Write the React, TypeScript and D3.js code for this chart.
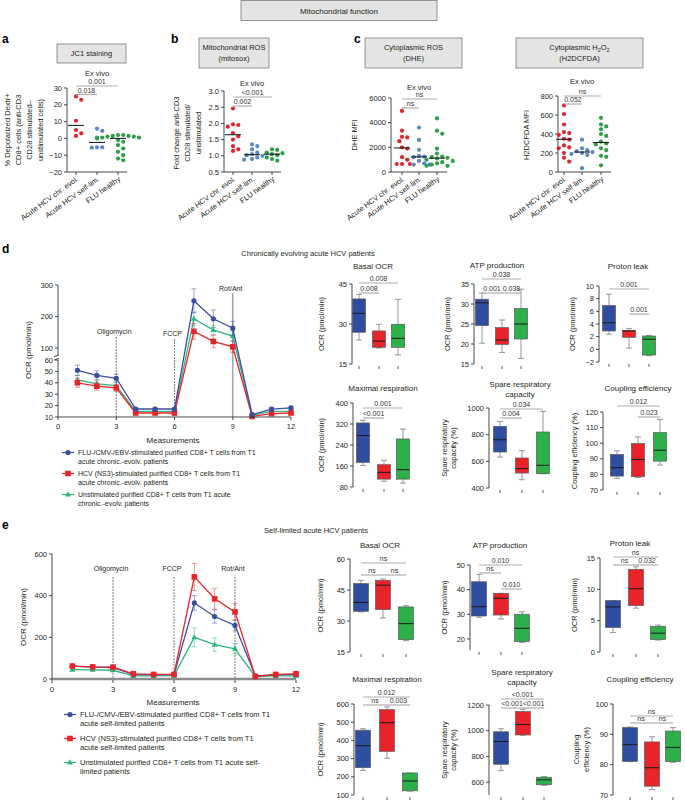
import React from "react";
import * as d3 from "d3";

const FONT = "'Liberation Sans', Arial, Helvetica, sans-serif";
const INK = "#231f20";

// ---------------- Panels a–c: dot plots ----------------
const dotCategories = ["Acute HCV chr. evol.", "Acute HCV self-lim.", "FLU healthy"];
const jc1Chronic = [25, 23, 10.5, 5, 3, 1.5];
const jc1SelfLim = [5.8, 4.5, 0.5, -5.3, -5.3, -5.5];
const jc1Flu = [2, 2, 1.5, 1.5, 1, 1, 0.5, 0.5, 0, -1, -2, -4, -6, -8, -10, -12, -13];
const jc1Ticks = [-20, -10, 0, 10, 20, 30];

const mitosoxChronic = [2.46, 1.97, 1.95, 1.9, 1.7, 1.6, 1.5, 1.3, 1.2, 1.15];
const mitosoxSelfLim = [1.35, 1.3, 1.2, 1.1, 1.05, 1.02, 1.0, 0.95, 0.9, 0.88];
const mitosoxFlu = [1.2, 1.18, 1.1, 1.08, 1.05, 1.02, 0.95, 0.9, 0.85];
const mitosoxTicks = [0.5, 1.0, 1.5, 2.0, 2.5, 3.0];

const dheChronic = [4950, 3350, 2850, 2800, 2500, 2000, 1900, 1200, 1000, 650, 650, 650];
const dheSelfLim = [3600, 2600, 1800, 1300, 1250, 1200, 900, 700, 600, 600];
const dheFlu = [4350, 3350, 3100, 1900, 1500, 1250, 1200, 1150, 1100, 1000, 900, 800, 700, 600, 500, 500];
const dheTicks = [0, 2000, 4000, 6000];

const h2Chronic = [700, 610, 500, 420, 410, 390, 350, 340, 280, 260, 250, 200, 150, 110];
const h2SelfLim = [340, 250, 230, 220, 210, 200, 190, 180, 40];
const h2Flu = [570, 500, 480, 450, 400, 380, 320, 300, 290, 250, 230, 170, 160, 70];
const h2Ticks = [0, 200, 400, 600, 800];

// ---------------- Panels d, e: OCR time courses ----------------
const measurements = [1, 2, 3, 4, 5, 6, 7, 8, 9, 10, 11, 12];
const measurementTicks = [0, 3, 6, 9, 12];

const dFlu = [51, 46.5, 44, 17, 17, 17, 250, 193, 163, 12, 17, 18];
const dFluErr = [4.5, 4, 3.5, 1.5, 1.5, 1.5, 38, 28, 22, 1.5, 1.5, 1.5];
const dHcv = [40, 37, 35.5, 13.5, 13.5, 13.5, 153, 121, 104, 10.5, 13, 13.5];
const dHcvErr = [4, 3.5, 3, 1, 1, 1, 25, 20, 18, 1, 1, 1];
const dUnstim = [42.5, 39, 37.5, 15, 15, 15, 193, 157, 138, 11.5, 15, 15];
const dUnstimErr = [4, 3.5, 3.5, 1, 1, 1, 22, 15, 15, 1, 1, 1];
const dLowerTicks = [10, 20, 30, 40, 50, 60];
const dUpperTicks = [100, 200, 300];

const eFlu = [62, 57, 55, 22, 20, 20, 365, 300, 257, 15, 20, 22];
const eFluErr = [6, 5, 5, 4, 3, 3, 35, 32, 25, 3, 3, 3];
const eHcv = [62, 58, 57, 25, 22, 22, 490, 385, 322, 12, 22, 25];
const eHcvErr = [6, 6, 6, 5, 4, 4, 65, 50, 40, 3, 4, 4];
const eUnstim = [45, 44, 42, 15, 15, 16, 200, 165, 145, 12, 15, 15];
const eUnstimErr = [5, 5, 5, 3, 3, 3, 45, 32, 25, 3, 3, 3];
const eTicks = [0, 200, 400, 600];

const injections = [
  { at: 3, label: "Oligomycin" },
  { at: 6, label: "FCCP" },
  { at: 9, label: "Rot/Ant" },
];

const dLegend = [
  ["FLU-/CMV-/EBV-stimulated purified CD8+ T cells from T1", "acute chronic.-evolv. patients"],
  ["HCV (NS3)-stimulated purified CD8+ T cells from T1", "acute chronic.-evolv. patients"],
  ["Unstimulated purified CD8+ T cells from T1 acute", "chronic.-evolv. patients"],
];
const eLegend = [
  ["FLU-/CMV-/EBV-stimulated purified CD8+ T cells from T1", "acute self-limited patients"],
  ["HCV (NS3)-stimulated purified CD8+ T cells from T1", "acute self-limited patients"],
  ["Unstimulated purified CD8+ T cells from T1 acute self-", "limited patients"],
];

// ---------------- Box plots: [min, q1, median, q3, max] for FLU, HCV, unstim ----------------
const dBasal = [[24, 26.9, 34, 39.4, 41.1], [21, 21.25, 23.6, 27.4, 29.9], [18.4, 21.25, 24.6, 29.9, 39.25]];
const dAtp = [[20.2, 24.6, 30.3, 31.2, 32.7], [17.9, 19.9, 21, 24.1, 26], [16.4, 21.25, 25, 28.9, 33.7]];
const dProton = [[2.4, 2.9, 4.2, 6.9, 8.7], [0.2, 1.9, 2.9, 3.0, 3.3], [-1.0, -0.9, 1.6, 2.1, 2.2]];
const dMaximal = [[162, 174, 276, 324, 334], [102, 110, 136, 165, 182], [95, 110, 146, 263, 301]];
const dSpare = [[632, 670, 762, 862, 900], [462, 512, 545, 625, 680], [507, 507, 570, 820, 975]];
const dCoupling = [[77.4, 78.9, 84.3, 92.8, 95.1], [78, 78.5, 89.6, 99.8, 104], [86, 88.5, 95.5, 106.8, 115.3]];

const eBasal = [[34.4, 34.7, 39, 48.1, 49.7], [31.5, 35.5, 47.3, 49.7, 50.3], [20.5, 21, 28.7, 36.8, 37.4]];
const eAtp = [[28.8, 29.3, 33.1, 43.2, 46.2], [28.1, 29.7, 36.5, 38.5, 38.5], [18.6, 18.9, 24.3, 30, 31]];
const eProton = [[3.1, 3.9, 7.2, 8.2, 8.2], [7.0, 7.4, 10.1, 13.2, 13.6], [1.9, 2.0, 3.0, 4.1, 4.3]];
const eMaximal = [[235, 250, 371, 456, 464], [302, 340, 497, 569, 584], [121, 123, 177, 221, 221]];
const eSpare = [[689, 739, 916, 992, 1015], [965, 967, 1048, 1149, 1167], [575, 580, 618, 638, 643]];
const eCoupling = [[81, 81.1, 86.6, 92.2, 92.4], [71.8, 72.9, 79, 87.5, 89.2], [80.8, 81, 85.7, 91.1, 92.2]];

// ---------------- colours ----------------
const dotColors = ["#dd272d", "#5a87c6", "#2e9e49"];
const boxColors = ["#2f4ea2", "#e8232a", "#2bb04a"];
const lineColors = { flu: "#3b4ea0", hcv: "#e8242a", uns: "#2fb67c" };

const fmtNum = (n: number) => (n < 0 ? "\u2212" + Math.abs(n) : String(n));
const arr = (v: number | number[]) => (Array.isArray(v) ? v : [v]);

type Sig = { a: number; b: number; y: number; label: string };

function SigBars({ sig, catX }: { sig: Sig[]; catX: number[] }) {
  return (
    <g>
      {sig.map((s, i) => (
        <g key={i}>
          <line x1={catX[s.a]} x2={catX[s.b]} y1={s.y} y2={s.y} stroke="#adadad" strokeWidth={1.2} />
          <text x={(catX[s.a] + catX[s.b]) / 2} y={s.y - 1.8} textAnchor="middle" fontSize={7} fill="#333">
            {s.label}
          </text>
        </g>
      ))}
    </g>
  );
}

function RotLabel({ lines, xs, cy, size = 7.5 }: { lines: string[]; xs: number[]; cy: number; size?: number }) {
  return (
    <g>
      {lines.map((l, i) => (
        <text
          key={i}
          transform={`translate(${xs[i] + 2.6},${cy}) rotate(-90)`}
          textAnchor="middle"
          fontSize={size}
          fill={INK}
        >
          {l}
        </text>
      ))}
    </g>
  );
}

function TitleBox({ x, y, w, h, lines }: { x: number; y: number; w: number; h: number; lines: React.ReactNode[] }) {
  const n = lines.length;
  return (
    <g>
      <rect x={x} y={y} width={w} height={h} fill="#e4e4e4" stroke="#7a7a7a" strokeWidth={0.8} />
      {lines.map((l, i) => (
        <text
          key={i}
          x={x + w / 2}
          y={y + h / 2 + 2.7 + (i - (n - 1) / 2) * 11}
          textAnchor="middle"
          fontSize={7.5}
          fill={INK}
        >
          {l}
        </text>
      ))}
    </g>
  );
}

function swarm(values: number[], y: (v: number) => number, r: number) {
  const pts = values.map((v) => ({ v, py: y(v), dx: 0 }));
  const order = [...pts].sort((a, b) => a.py - b.py);
  const placed: { py: number; dx: number }[] = [];
  const s = r * 1.25;
  for (const p of order) {
    for (let k = 0; k < 30; k++) {
      const m = Math.ceil(k / 2);
      const off = k === 0 ? 0 : k % 2 === 1 ? m * s : -m * s;
      const hit = placed.some((q) => (q.dx - off) ** 2 + (q.py - p.py) ** 2 < (2 * r + 0.5) ** 2);
      if (!hit) {
        p.dx = off;
        break;
      }
    }
    placed.push({ py: p.py, dx: p.dx });
  }
  return pts;
}

function DotPlot(props: {
  axisX: number;
  yTop: number;
  yBottom: number;
  domain: [number, number];
  ticks: number[];
  fmt: (n: number) => string;
  catX: number[];
  groups: number[][];
  sig: Sig[];
  exVivoY: number;
  xEnd: number;
}) {
  const { axisX, yTop, yBottom, domain, ticks, fmt, catX, groups, sig, exVivoY, xEnd } = props;
  const y = d3.scaleLinear().domain(domain).range([yBottom, yTop]);
  const r = 2.1;
  return (
    <g>
      <text x={catX[1]} y={exVivoY} textAnchor="middle" fontSize={7.5} fill={INK}>
        Ex vivo
      </text>
      <line x1={axisX} x2={axisX} y1={yTop} y2={yBottom} stroke="#333" strokeWidth={0.9} />
      <line x1={axisX} x2={xEnd} y1={yBottom} y2={yBottom} stroke="#333" strokeWidth={0.9} />
      {ticks.map((t) => (
        <g key={t}>
          <line x1={axisX - 3} x2={axisX} y1={y(t)} y2={y(t)} stroke="#333" strokeWidth={0.9} />
          <text x={axisX - 5} y={y(t) + 2.6} textAnchor="end" fontSize={7.5} fill={INK}>
            {fmt(t)}
          </text>
        </g>
      ))}
      {catX.map((cx, i) => (
        <g key={i}>
          <line x1={cx} x2={cx} y1={yBottom} y2={yBottom + 3} stroke="#333" strokeWidth={0.9} />
          <text
            transform={`translate(${cx + 3},${yBottom + 8}) rotate(-36)`}
            textAnchor="end"
            fontSize={7.5}
            fill={INK}
          >
            {dotCategories[i]}
          </text>
        </g>
      ))}
      {groups.map((g, i) => {
        const pts = swarm(g, y, r);
        const med = d3.median(g) as number;
        return (
          <g key={i}>
            {pts.map((p, j) => (
              <circle key={j} cx={catX[i] + p.dx} cy={p.py} r={r} fill={dotColors[i]} />
            ))}
            <line x1={catX[i] - 8} x2={catX[i] + 8} y1={y(med)} y2={y(med)} stroke="#111" strokeWidth={1} />
          </g>
        );
      })}
      <SigBars sig={sig} catX={catX} />
    </g>
  );
}

function Marker({ kind, x, y, color }: { kind: string; x: number; y: number; color: string }) {
  if (kind === "circle") return <circle cx={x} cy={y} r={2.6} fill={color} />;
  if (kind === "square") return <rect x={x - 2.8} y={y - 2.8} width={5.6} height={5.6} fill={color} />;
  return <path d={`M${x},${y - 3.2}L${x + 3},${y + 2}L${x - 3},${y + 2}Z`} fill={color} />;
}

type Series = { values: number[]; errs: number[]; color: string; kind: string };

function SeriesMarks({ s, x, y }: { s: Series; x: (v: number) => number; y: (v: number) => number }) {
  const line = d3
    .line<number>()
    .x((_, i) => x(measurements[i]))
    .y((v) => y(v));
  return (
    <g>
      {s.values.map((v, i) => {
        const cx = x(measurements[i]);
        const lo = y(v - s.errs[i]);
        const hi = y(v + s.errs[i]);
        return (
          <g key={i} stroke={s.color} strokeOpacity={0.55} strokeWidth={0.9}>
            <line x1={cx} x2={cx} y1={lo} y2={hi} />
            <line x1={cx - 2.5} x2={cx + 2.5} y1={lo} y2={lo} />
            <line x1={cx - 2.5} x2={cx + 2.5} y1={hi} y2={hi} />
          </g>
        );
      })}
      <path d={line(s.values) || ""} fill="none" stroke={s.color} strokeWidth={1.3} />
      {s.values.map((v, i) => (
        <Marker key={i} kind={s.kind} x={x(measurements[i])} y={y(v)} color={s.color} />
      ))}
    </g>
  );
}

function Legend({ items, x, ys, size }: { items: string[][]; x: number; ys: number[]; size: number }) {
  const kinds = ["circle", "square", "triangle"];
  const cols = [lineColors.flu, lineColors.hcv, lineColors.uns];
  return (
    <g>
      {items.map((it, i) => (
        <g key={i}>
          <line x1={x - 6} x2={x + 6} y1={ys[i] - 2.5} y2={ys[i] - 2.5} stroke={cols[i]} strokeWidth={1.2} />
          <Marker kind={kinds[i]} x={x} y={ys[i] - 2.5} color={cols[i]} />
          {it.map((t, j) => (
            <text key={j} x={x + 10} y={ys[i] + j * 8.5} fontSize={size} fill={INK}>
              {t}
            </text>
          ))}
        </g>
      ))}
    </g>
  );
}

function BoxPlot(props: {
  axisX: number;
  yBottom: number;
  yTop: number;
  domain: [number, number];
  ticks: number[];
  catX: number[];
  stats: number[][];
  boxW: number;
  sig: Sig[];
  title: string[];
  titleX: number;
  titleY: number | number[];
  yLabel: string[];
  yLabelX: number | number[];
}) {
  const { axisX, yBottom, yTop, domain, ticks, catX, stats, boxW, sig, title, titleX, yLabel } = props;
  const titleY = arr(props.titleY);
  const yLabelX = arr(props.yLabelX);
  const y = d3.scaleLinear().domain(domain).range([yBottom, yTop]);
  return (
    <g>
      {title.map((t, i) => (
        <text key={i} x={titleX} y={titleY[i]} textAnchor="middle" fontSize={8} fill={INK}>
          {t}
        </text>
      ))}
      <RotLabel lines={yLabel} xs={yLabelX} cy={(yBottom + yTop) / 2} />
      <line x1={axisX} x2={axisX} y1={yBottom} y2={yTop} stroke="#333" strokeWidth={0.9} />
      {ticks.map((t) => (
        <g key={t}>
          <line x1={axisX - 3} x2={axisX} y1={y(t)} y2={y(t)} stroke="#333" strokeWidth={0.9} />
          <text x={axisX - 5} y={y(t) + 2.6} textAnchor="end" fontSize={7.5} fill={INK}>
            {fmtNum(t)}
          </text>
        </g>
      ))}
      {catX.map((cx, i) => (
        <line key={i} x1={cx} x2={cx} y1={yBottom + 2} y2={yBottom + 5} stroke="#333" strokeWidth={0.8} />
      ))}
      {stats.map((s, i) => {
        const cx = catX[i];
        const [mn, q1, md, q3, mx] = s;
        return (
          <g key={i}>
            <g stroke="#8a8a8a" strokeWidth={0.9}>
              <line x1={cx} x2={cx} y1={y(mx)} y2={y(q3)} />
              <line x1={cx} x2={cx} y1={y(q1)} y2={y(mn)} />
              <line x1={cx - 3} x2={cx + 3} y1={y(mx)} y2={y(mx)} />
              <line x1={cx - 3} x2={cx + 3} y1={y(mn)} y2={y(mn)} />
            </g>
            <rect
              x={cx - boxW / 2}
              y={y(q3)}
              width={boxW}
              height={Math.max(0.5, y(q1) - y(q3))}
              fill={boxColors[i]}
              stroke="#5a5a5a"
              strokeWidth={0.7}
            />
            <line x1={cx - boxW / 2} x2={cx + boxW / 2} y1={y(md)} y2={y(md)} stroke="#1a1a1a" strokeWidth={1} />
          </g>
        );
      })}
      <SigBars sig={sig} catX={catX} />
    </g>
  );
}

function InjectionLines({
  x,
  y0,
  tops,
  labelYs,
  styles,
}: {
  x: (v: number) => number;
  y0: number;
  tops: number[];
  labelYs: number[];
  styles: { stroke: string; width: number; dash: string }[];
}) {
  return (
    <g>
      {injections.map((inj, i) => (
        <g key={i}>
          <line
            x1={x(inj.at)}
            x2={x(inj.at)}
            y1={tops[i]}
            y2={y0}
            stroke={styles[i].stroke}
            strokeWidth={styles[i].width}
            strokeDasharray={styles[i].dash}
          />
          <text x={x(inj.at) - 2} y={labelYs[i]} textAnchor="middle" fontSize={7} fill={INK}>
            {inj.label}
          </text>
        </g>
      ))}
    </g>
  );
}

function PanelD() {
  const x = d3.scaleLinear().domain([0, 12]).range([58, 291]);
  const y = d3.scaleLinear().domain([10, 60, 78, 300]).range([417, 360, 355, 285]);
  const ax = 58;
  const series: Series[] = [
    { values: dUnstim, errs: dUnstimErr, color: lineColors.uns, kind: "triangle" },
    { values: dHcv, errs: dHcvErr, color: lineColors.hcv, kind: "square" },
    { values: dFlu, errs: dFluErr, color: lineColors.flu, kind: "circle" },
  ];
  return (
    <g>
      <InjectionLines
        x={x}
        y0={417}
        tops={[337, 339, 293]}
        labelYs={[334, 336, 291]}
        styles={[
          { stroke: "#444", width: 0.7, dash: "2,1" },
          { stroke: "#444", width: 0.7, dash: "2,1" },
          { stroke: "#a8a8a8", width: 1.6, dash: "" },
        ]}
      />
      {series.map((s, i) => (
        <SeriesMarks key={i} s={s} x={x} y={y} />
      ))}
      <line x1={ax} x2={ax} y1={417} y2={360} stroke="#333" strokeWidth={0.9} />
      <line x1={ax} x2={ax} y1={355} y2={285} stroke="#333" strokeWidth={0.9} />
      <line x1={ax - 4} x2={ax + 1} y1={356.5} y2={355} stroke="#333" strokeWidth={0.9} />
      <line x1={ax - 4} x2={ax + 1} y1={360} y2={358.5} stroke="#333" strokeWidth={0.9} />
      {[...dLowerTicks, ...dUpperTicks].map((t) => (
        <g key={t}>
          <line x1={ax - 3} x2={ax} y1={y(t)} y2={y(t)} stroke="#333" strokeWidth={0.9} />
          <text x={ax - 5} y={y(t) + 2.6} textAnchor="end" fontSize={7.5} fill={INK}>
            {t}
          </text>
        </g>
      ))}
      <line x1={ax} x2={291} y1={417} y2={417} stroke="#333" strokeWidth={0.9} />
      {measurementTicks.map((t) => (
        <g key={t}>
          <line x1={x(t)} x2={x(t)} y1={417} y2={420} stroke="#333" strokeWidth={0.9} />
          <text x={x(t)} y={429} textAnchor="middle" fontSize={7.5} fill={INK}>
            {t}
          </text>
        </g>
      ))}
      <text x={173} y={443} textAnchor="middle" fontSize={8} fill={INK}>
        Measurements
      </text>
      <RotLabel lines={["OCR (pmol/min)"]} xs={[28]} cy={350} size={8} />
      <Legend items={dLegend} x={68} ys={[455, 476, 497]} size={7} />
    </g>
  );
}

function PanelE() {
  const x = d3.scaleLinear().domain([0, 12]).range([52, 296]);
  const y = d3.scaleLinear().domain([0, 600]).range([679, 554]);
  const ax = 52;
  const series: Series[] = [
    { values: eUnstim, errs: eUnstimErr, color: lineColors.uns, kind: "triangle" },
    { values: eFlu, errs: eFluErr, color: lineColors.flu, kind: "circle" },
    { values: eHcv, errs: eHcvErr, color: lineColors.hcv, kind: "square" },
  ];
  const dash = { stroke: "#444", width: 0.7, dash: "2,1" };
  return (
    <g>
      <InjectionLines x={x} y0={679} tops={[577, 577, 577]} labelYs={[571, 571, 571]} styles={[dash, dash, dash]} />
      <line x1={ax} x2={296} y1={679} y2={679} stroke="#8c8c8c" strokeWidth={2.6} />
      {series.map((s, i) => (
        <SeriesMarks key={i} s={s} x={x} y={y} />
      ))}
      <line x1={ax} x2={ax} y1={680} y2={554} stroke="#333" strokeWidth={0.9} />
      {eTicks.map((t) => (
        <g key={t}>
          <line x1={ax - 3} x2={ax} y1={y(t)} y2={y(t)} stroke="#333" strokeWidth={0.9} />
          <text x={ax - 5} y={y(t) + 2.6} textAnchor="end" fontSize={7.5} fill={INK}>
            {t}
          </text>
        </g>
      ))}
      {measurementTicks.map((t) => (
        <g key={t}>
          <line x1={x(t)} x2={x(t)} y1={680} y2={683} stroke="#333" strokeWidth={0.9} />
          <text x={x(t)} y={692} textAnchor="middle" fontSize={7.5} fill={INK}>
            {t}
          </text>
        </g>
      ))}
      <text x={173} y={705} textAnchor="middle" fontSize={8} fill={INK}>
        Measurements
      </text>
      <RotLabel lines={["OCR (pmol/min)"]} xs={[23]} cy={617} size={8} />
      <Legend items={eLegend} x={70} ys={[717, 741, 765]} size={7.5} />
    </g>
  );
}

export default function App() {
  const letter = (t: string, x: number, y: number) => (
    <text x={x} y={y} fontSize={12} fontWeight="bold" fill="#000">
      {t}
    </text>
  );
  return (
    <div style={{ position: "absolute", left: 0, top: 0, width: 685, height: 800, background: "#fff" }}>
      <svg width={685} height={800} style={{ display: "block", fontFamily: FONT }}>
        <rect x={0} y={0} width={685} height={800} fill="#fff" />
        <rect x={241} y={0.5} width={196} height={20} fill="#e4e4e4" stroke="#7a7a7a" strokeWidth={0.8} />
        <text x={339} y={13.5} textAnchor="middle" fontSize={8} fill={INK}>
          Mitochondrial function
        </text>

        {letter("a", 2, 43)}
        {letter("b", 171, 43)}
        {letter("c", 354, 43)}
        {letter("d", 2, 253)}
        {letter("e", 2, 529)}

        <TitleBox x={57} y={44} w={69} h={19} lines={["JC1 staining"]} />
        <TitleBox x={199} y={38} w={70} h={30} lines={["Mitochondrial ROS", "(mitosox)"]} />
        <TitleBox x={365} y={38} w={97} h={30} lines={["Cytoplasmic ROS", "(DHE)"]} />
        <TitleBox
          x={516}
          y={38}
          w={127}
          h={30}
          lines={[
            <tspan key="h">
              Cytoplasmic H
              <tspan fontSize={5.5} dy={2}>
                2
              </tspan>
              <tspan dy={-2}>O</tspan>
              <tspan fontSize={5.5} dy={2}>
                2
              </tspan>
            </tspan>,
            "(H2DCFDA)",
          ]}
        />

        <RotLabel
          lines={["% Depolarized Dextr+", "CD8+ cells (anti-CD3", "CD28  stimulated\u2013", "unstimulated cells)"]}
          xs={[7, 18, 29, 40]}
          cy={130}
        />
        <DotPlot
          axisX={67}
          yTop={88}
          yBottom={172}
          domain={[-20, 30]}
          ticks={jc1Ticks}
          fmt={fmtNum}
          catX={[76, 97, 118]}
          groups={[jc1Chronic, jc1SelfLim, jc1Flu]}
          sig={[
            { a: 0, b: 2, y: 86, label: "0.001" },
            { a: 0, b: 1, y: 94.5, label: "0.018" },
          ]}
          exVivoY={76}
          xEnd={127}
        />

        <RotLabel lines={["Fold change anti-CD3", "CD28  stimulated/", "unstimulated"]} xs={[176, 187, 198]} cy={133} />
        <DotPlot
          axisX={224}
          yTop={91}
          yBottom={172}
          domain={[0.5, 3.0]}
          ticks={mitosoxTicks}
          fmt={(n) => n.toFixed(1)}
          catX={[233, 252, 272]}
          groups={[mitosoxChronic, mitosoxSelfLim, mitosoxFlu]}
          sig={[
            { a: 0, b: 2, y: 97, label: "<0.001" },
            { a: 0, b: 1, y: 106, label: "0.002" },
          ]}
          exVivoY={86}
          xEnd={281}
        />

        <RotLabel lines={["DHE MFI"]} xs={[354]} cy={135} />
        <DotPlot
          axisX={391}
          yTop={98}
          yBottom={172}
          domain={[0, 6000]}
          ticks={dheTicks}
          fmt={(n) => String(n)}
          catX={[402, 419, 437]}
          groups={[dheChronic, dheSelfLim, dheFlu]}
          sig={[
            { a: 0, b: 2, y: 99, label: "ns" },
            { a: 0, b: 1, y: 108, label: "ns" },
          ]}
          exVivoY={90}
          xEnd={447}
        />

        <RotLabel lines={["H2DCFDA MFI"]} xs={[526]} cy={135} />
        <DotPlot
          axisX={558}
          yTop={96}
          yBottom={172}
          domain={[0, 800]}
          ticks={h2Ticks}
          fmt={(n) => String(n)}
          catX={[564, 582, 601]}
          groups={[h2Chronic, h2SelfLim, h2Flu]}
          sig={[
            { a: 0, b: 2, y: 96, label: "ns" },
            { a: 0, b: 1, y: 104, label: "0.052" },
          ]}
          exVivoY={84}
          xEnd={611}
        />

        <text x={308} y={256} textAnchor="middle" fontSize={7.5} fill={INK}>
          Chronically evolving acute HCV patients
        </text>
        <PanelD />
        <BoxPlot
          axisX={352} yBottom={364} yTop={284} domain={[15, 45]} ticks={[15, 30, 45]}
          catX={[359, 379, 398]} stats={dBasal} boxW={13}
          sig={[{ a: 0, b: 2, y: 283, label: "0.008" }, { a: 0, b: 1, y: 293, label: "0.008" }]}
          title={["Basal OCR"]} titleX={373} titleY={269} yLabel={["OCR (pmol/min)"]} yLabelX={321}
        />
        <BoxPlot
          axisX={474} yBottom={364} yTop={284} domain={[15, 35]} ticks={[15, 20, 25, 30, 35]}
          catX={[482, 502, 521]} stats={dAtp} boxW={13}
          sig={[
            { a: 0, b: 2, y: 279, label: "0.038" },
            { a: 0, b: 1, y: 293, label: "0.001" },
            { a: 1, b: 2, y: 293, label: "0.038" },
          ]}
          title={["ATP production"]} titleX={497} titleY={268} yLabel={["OCR (pmol/min)"]} yLabelX={447}
        />
        <BoxPlot
          axisX={599} yBottom={362} yTop={286} domain={[-2, 10]} ticks={[-2, 0, 2, 4, 6, 8, 10]}
          catX={[609, 629, 649]} stats={dProton} boxW={13}
          sig={[{ a: 0, b: 2, y: 289, label: "0.001" }, { a: 1, b: 2, y: 314, label: "0.001" }]}
          title={["Proton leak"]} titleX={628} titleY={269} yLabel={["OCR (pmol/min)"]} yLabelX={572}
        />
        <BoxPlot
          axisX={353} yBottom={487} yTop={403} domain={[80, 400]} ticks={[80, 160, 240, 320, 400]}
          catX={[363, 384, 403]} stats={dMaximal} boxW={13}
          sig={[{ a: 0, b: 2, y: 408, label: "0.001" }, { a: 0, b: 1, y: 418, label: "<0.001" }]}
          title={["Maximal respiration"]} titleX={383} titleY={391} yLabel={["OCR (pmol/min)"]} yLabelX={321}
        />
        <BoxPlot
          axisX={489} yBottom={488} yTop={408} domain={[400, 1000]} ticks={[400, 600, 800, 1000]}
          catX={[500, 522, 543]} stats={dSpare} boxW={13}
          sig={[{ a: 0, b: 2, y: 409, label: "0.034" }, { a: 0, b: 1, y: 418, label: "0.004" }]}
          title={["Spare respiratory", "capacity"]} titleX={520} titleY={[387, 397]}
          yLabel={["Spare respiratory", "capacity (%)"]} yLabelX={[444, 453]}
        />
        <BoxPlot
          axisX={603} yBottom={490} yTop={412} domain={[70, 120]} ticks={[70, 80, 90, 100, 110, 120]}
          catX={[617, 638, 660]} stats={dCoupling} boxW={13}
          sig={[{ a: 0, b: 2, y: 406, label: "0.012" }, { a: 1, b: 2, y: 417, label: "0.023" }]}
          title={["Coupling efficiency"]} titleX={638} titleY={391} yLabel={["Coupling efficiency (%)"]} yLabelX={574}
        />

        <text x={316} y={533} textAnchor="middle" fontSize={7.5} fill={INK}>
          Self-limited acute HCV patients
        </text>
        <PanelE />
        <BoxPlot
          axisX={350} yBottom={652} yTop={559} domain={[15, 60]} ticks={[15, 30, 45, 60]}
          catX={[361, 383, 406]} stats={eBasal} boxW={15}
          sig={[
            { a: 0, b: 2, y: 563, label: "ns" },
            { a: 0, b: 1, y: 575, label: "ns" },
            { a: 1, b: 2, y: 575, label: "ns" },
          ]}
          title={["Basal OCR"]} titleX={380} titleY={548} yLabel={["OCR (pmol/min)"]} yLabelX={320}
        />
        <BoxPlot
          axisX={470} yBottom={650} yTop={565} domain={[15.5, 50]} ticks={[20, 30, 40, 50]}
          catX={[479, 501, 522]} stats={eAtp} boxW={15}
          sig={[
            { a: 0, b: 2, y: 565, label: "0.010" },
            { a: 0, b: 1, y: 573, label: "ns" },
            { a: 1, b: 2, y: 589, label: "0.010" },
          ]}
          title={["ATP production"]} titleX={500} titleY={548} yLabel={["OCR (pmol/min)"]} yLabelX={444}
        />
        <BoxPlot
          axisX={600} yBottom={652} yTop={558} domain={[0, 15]} ticks={[0, 5, 10, 15]}
          catX={[613, 636, 658]} stats={eProton} boxW={15}
          sig={[
            { a: 0, b: 2, y: 557, label: "ns" },
            { a: 0, b: 1, y: 565, label: "ns" },
            { a: 1, b: 2, y: 565, label: "0.032" },
          ]}
          title={["Proton leak"]} titleX={630} titleY={546} yLabel={["OCR (pmol/min)"]} yLabelX={574}
        />
        <BoxPlot
          axisX={354} yBottom={795} yTop={704} domain={[100, 600]} ticks={[100, 200, 300, 400, 500, 600]}
          catX={[363, 387, 410]} stats={eMaximal} boxW={15}
          sig={[
            { a: 0, b: 2, y: 697, label: "0.012" },
            { a: 0, b: 1, y: 705, label: "ns" },
            { a: 1, b: 2, y: 705, label: "0.003" },
          ]}
          title={["Maximal respiration"]} titleX={387} titleY={682} yLabel={["OCR (pmol/min)"]} yLabelX={320}
        />
        <BoxPlot
          axisX={489} yBottom={795} yTop={705} domain={[500, 1200]} ticks={[600, 800, 1000, 1200]}
          catX={[501, 523, 544]} stats={eSpare} boxW={15}
          sig={[
            { a: 0, b: 2, y: 699, label: "<0.001" },
            { a: 0, b: 1, y: 708, label: "<0.001" },
            { a: 1, b: 2, y: 708, label: "<0.001" },
          ]}
          title={["Spare respiratory", "capacity"]} titleX={522} titleY={[675, 685]}
          yLabel={["Spare respiratory", "capacity (%)"]} yLabelX={[444, 453]}
        />
        <BoxPlot
          axisX={613} yBottom={795} yTop={704} domain={[70, 100]} ticks={[70, 80, 90, 100]}
          catX={[630, 652, 673]} stats={eCoupling} boxW={15}
          sig={[
            { a: 0, b: 2, y: 716, label: "ns" },
            { a: 0, b: 1, y: 723, label: "ns" },
            { a: 1, b: 2, y: 723, label: "ns" },
          ]}
          title={["Coupling efficiency"]} titleX={640} titleY={682} yLabel={["Coupling", "efficiency (%)"]} yLabelX={[576, 586]}
        />
      </svg>
    </div>
  );
}
